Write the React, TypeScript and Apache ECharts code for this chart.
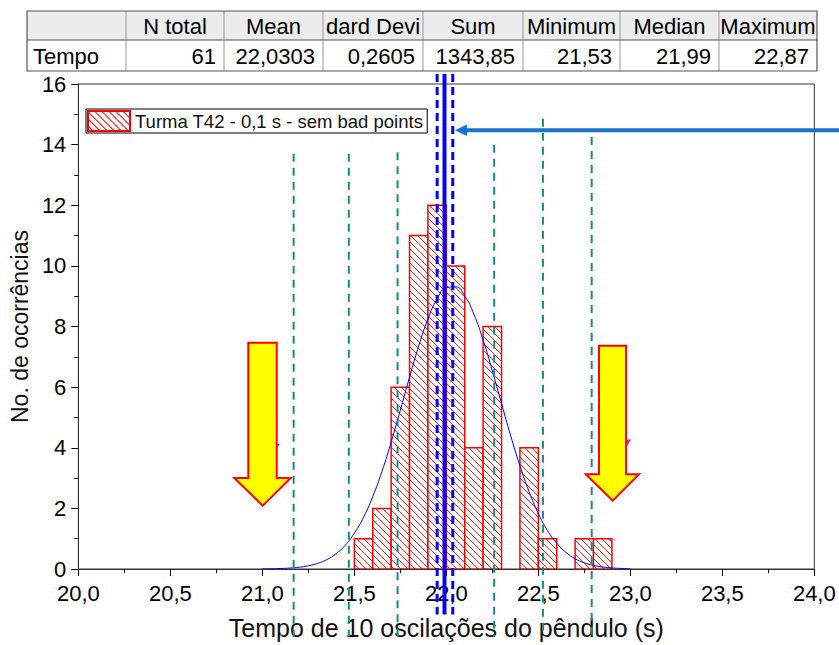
import React, { useEffect, useRef } from 'react';
import * as echarts from 'echarts';

// ---------- data ----------
const seriesName = 'Turma T42 - 0,1 s - sem bad points';
const binStarts = [21.5, 21.6, 21.7, 21.8, 21.9, 22.0, 22.1, 22.2, 22.3, 22.4, 22.5, 22.6, 22.7, 22.8];
const counts = [1, 2, 6, 11, 12, 10, 4, 8, 0, 4, 1, 0, 1, 1];
const binWidth = 0.1;

const fitX = [21.0, 21.05, 21.1, 21.15, 21.2, 21.25, 21.3, 21.35, 21.4, 21.45, 21.5, 21.55, 21.6, 21.65, 21.7, 21.75, 21.8, 21.85, 21.9, 21.95, 22.0,
  22.05, 22.1, 22.15, 22.2, 22.25, 22.3, 22.35, 22.4, 22.45, 22.5, 22.55, 22.6, 22.65, 22.7, 22.75, 22.8, 22.85, 22.9, 22.95, 23.0];
const fitY = [0.004, 0.008, 0.016, 0.031, 0.058, 0.106, 0.184, 0.31, 0.5, 0.78, 1.18, 1.71, 2.39, 3.22, 4.19, 5.24, 6.33, 7.36, 8.25, 8.91, 9.28,
  9.31, 9.01, 8.4, 7.55, 6.54, 5.46, 4.39, 3.41, 2.55, 1.83, 1.27, 0.85, 0.55, 0.34, 0.205, 0.12, 0.066, 0.035, 0.018, 0.009];

const tealX = [21.17, 21.47, 21.735, 22.26, 22.525, 22.79];
const tealTop = [13.7, 13.7, 13.75, 14.0, 14.85, 14.25];
const tealBottom = -2.24;
const medianX = 21.99;
const ciX = [21.95, 22.035];
const blueTop = 16.33;
const blueBottom = -1.5;

const xMin = 20, xMax = 24, xInterval = 0.5;
const yMin = 0, yMax = 16, yInterval = 2;

const tableHeaders = ['', 'N total', 'Mean', 'dard Devi', 'Sum', 'Minimum', 'Median', 'Maximum'];
const tableRow = ['Tempo', '61', '22,0303', '0,2605', '1343,85', '21,53', '21,99', '22,87'];

// ---------- layout ----------
const FONT = 'Liberation Sans, Arial, sans-serif';
const colX = [27, 126, 224, 323, 423, 523, 620, 719, 817];
const rowY = [11, 40, 71];
const HATCH_STEP = 7;

function buildTable(): any[] {
  const els: any[] = [];
  const Z = 100;
  els.push({ type: 'rect', shape: { x: colX[0], y: rowY[0], width: colX[8] - colX[0], height: rowY[1] - rowY[0] }, style: { fill: '#ececec' }, z: Z });
  els.push({ type: 'rect', shape: { x: colX[0], y: rowY[1], width: colX[8] - colX[0], height: rowY[2] - rowY[1] }, style: { fill: '#ffffff' }, z: Z });
  const txt = (x: number, y: number, s: string, align: string, z: number) => ({
    type: 'text', x, y, z,
    style: { text: s, fill: '#000', font: `22px ${FONT}`, textAlign: align, textVerticalAlign: 'middle' },
  });
  const hy = (rowY[0] + rowY[1]) / 2 + 1;
  const dy = (rowY[1] + rowY[2]) / 2 + 1;
  tableHeaders.forEach((h, i) => {
    if (!h) return;
    els.push(txt((colX[i] + colX[i + 1]) / 2, hy, h, 'center', Z + 3));
  });
  tableRow.forEach((v, i) => {
    if (i === 0) els.push(txt(colX[0] + 6, dy, v, 'left', Z + 3));
    else els.push(txt(colX[i + 1] - 8, dy, v, 'right', Z + 3));
  });
  for (let i = 1; i < colX.length - 1; i++) {
    els.push({ type: 'line', shape: { x1: colX[i], y1: rowY[0], x2: colX[i], y2: rowY[2] }, style: { stroke: '#9a9a9a', lineWidth: 1 }, z: Z + 4 });
  }
  els.push({ type: 'line', shape: { x1: colX[0], y1: rowY[1], x2: colX[8], y2: rowY[1] }, style: { stroke: '#555', lineWidth: 1 }, z: Z + 4 });
  els.push({ type: 'rect', shape: { x: colX[0], y: rowY[0], width: colX[8] - colX[0], height: rowY[2] - rowY[0] }, style: { fill: 'none', stroke: '#555', lineWidth: 1.2 }, z: Z + 5 });
  return els;
}

function buildAnnotations(): any[] {
  const yellow = { fill: '#ffff00', stroke: '#ff0000', lineWidth: 2 };
  return [
    {
      type: 'polygon', z: 120,
      shape: { points: [[248.3, 342.7], [276.7, 342.7], [276.7, 478], [290.7, 478], [262.7, 505.7], [234.3, 478], [248.3, 478]] },
      style: yellow,
    },
    {
      type: 'polygon', z: 120,
      shape: { points: [[599, 345.7], [626, 345.7], [626, 474.3], [639, 474.3], [612.7, 500.7], [585.7, 474.3], [599, 474.3]] },
      style: yellow,
    },
    { type: 'polygon', z: 119, shape: { points: [[274.5, 444], [279.5, 444], [276, 450]] }, style: { fill: '#ff00ff' } },
    { type: 'polygon', z: 119, shape: { points: [[626, 439.5], [631, 439.5], [627, 446]] }, style: { fill: '#ff00ff' } },
    { type: 'line', z: 120, shape: { x1: 465, y1: 130.3, x2: 839, y2: 130.3 }, style: { stroke: '#1874c8', lineWidth: 4 } },
    { type: 'polygon', z: 120, shape: { points: [[455, 130.3], [467, 124.5], [467, 136.1]] }, style: { fill: '#1874c8' } },
  ];
}

function renderHatchedBar(params: any, api: any) {
  const start = api.value(0);
  const end = api.value(1);
  const cnt = api.value(2);
  const p0 = api.coord([start, cnt]);
  const p1 = api.coord([end, 0]);
  const x0 = p0[0], y0 = p0[1];
  const w = p1[0] - p0[0], h = p1[1] - p0[1];
  const children: any[] = [
    { type: 'rect', shape: { x: x0, y: y0, width: w, height: h }, style: { fill: '#ffffff' } },
  ];
  const cMin = Math.ceil((x0 - (y0 + h)) / HATCH_STEP) * HATCH_STEP;
  for (let c = cMin; c <= x0 + w - y0; c += HATCH_STEP) {
    const xs = Math.max(x0, y0 + c);
    const xe = Math.min(x0 + w, y0 + h + c);
    if (xe > xs) {
      children.push({ type: 'line', shape: { x1: xs, y1: xs - c, x2: xe, y2: xe - c }, style: { stroke: '#ff2020', lineWidth: 1 } });
    }
  }
  children.push({ type: 'rect', shape: { x: x0, y: y0, width: w, height: h }, style: { fill: 'none', stroke: '#ff0000', lineWidth: 1.5 } });
  return { type: 'group', children };
}

export default function App() {
  const ref = useRef<HTMLDivElement>(null);
  useEffect(() => {
    if (!ref.current) return;
    const chart = echarts.init(ref.current, null, { renderer: 'svg' });

    const histData = binStarts
      .map((s, i) => [s, +(s + binWidth).toFixed(3), counts[i]])
      .filter((d) => d[2] > 0);

    const vSeries: any[] = [];
    tealX.forEach((x, i) => {
      vSeries.push({
        type: 'line', data: [[x, tealTop[i]], [x, tealBottom]], symbol: 'none', clip: false, silent: true, z: 5,
        lineStyle: { color: '#178a85', width: 2, type: [8, 6] },
      });
    });
    ciX.forEach((x) => {
      vSeries.push({
        type: 'line', data: [[x, blueTop], [x, blueBottom]], symbol: 'none', clip: false, silent: true, z: 6,
        lineStyle: { color: '#0000ff', width: 3, type: [8, 5] },
      });
    });
    vSeries.push({
      type: 'line', data: [[medianX, blueTop], [medianX, blueBottom]], symbol: 'none', clip: false, silent: true, z: 6,
      lineStyle: { color: '#0000ff', width: 4 },
    });

    const option: any = {
      animation: false,
      backgroundColor: '#ffffff',
      textStyle: { fontFamily: FONT },
      grid: { left: 76.5, right: 24.7, top: 84, bottom: 73.3, show: true, borderColor: '#333', borderWidth: 1, backgroundColor: 'transparent' },
      legend: {
        data: [seriesName], left: 86, top: 109, orient: 'horizontal', icon: 'rect',
        borderColor: '#000', borderWidth: 1, padding: [1, 4, 1, 1], borderRadius: 0,
        itemWidth: 42, itemHeight: 20, itemGap: 0,
        textStyle: { fontSize: 18.5, color: '#111', fontFamily: FONT },
        backgroundColor: '#fff',
      },
      xAxis: {
        type: 'value', min: xMin, max: xMax, interval: xInterval,
        name: 'Tempo de 10 oscilações do pêndulo (s)', nameLocation: 'middle', nameGap: 46,
        nameTextStyle: { fontSize: 25, color: '#111', fontFamily: FONT },
        axisLine: { show: true, onZero: false, lineStyle: { color: '#333', width: 1 } },
        axisTick: { show: true, length: 7, lineStyle: { color: '#000' } },
        minorTick: { show: true, splitNumber: 2, length: 4, lineStyle: { color: '#000' } },
        splitLine: { show: false },
        axisLabel: { fontSize: 22, color: '#000', margin: 13, formatter: (v: number) => v.toFixed(1).replace('.', ',') },
      },
      yAxis: {
        type: 'value', min: yMin, max: yMax, interval: yInterval,
        name: 'No. de ocorrências', nameLocation: 'middle', nameGap: 41,
        nameTextStyle: { fontSize: 23, color: '#111', fontFamily: FONT },
        axisLine: { show: true, lineStyle: { color: '#333', width: 1 } },
        axisTick: { show: true, length: 7, lineStyle: { color: '#000' } },
        minorTick: { show: true, splitNumber: 2, length: 4, lineStyle: { color: '#000' } },
        splitLine: { show: false },
        axisLabel: { fontSize: 22, color: '#000', margin: 12 },
      },
      series: [
        {
          // legend entry carrier (hatched swatch)
          name: seriesName, type: 'bar', data: [],
          itemStyle: {
            color: '#ffffff', borderColor: '#ff0000', borderWidth: 1.5,
            decal: { symbol: 'rect', symbolSize: 1, dashArrayX: [1, 0], dashArrayY: [1, 4], rotation: Math.PI / 4, color: '#ff0000' },
          },
        },
        {
          name: 'hist', type: 'custom', data: histData, renderItem: renderHatchedBar, z: 2,
          encode: { x: [0, 1], y: 2 }, clip: true,
        },
        {
          name: 'fit', type: 'line', data: fitX.map((x, i) => [x, fitY[i]]), smooth: true, symbol: 'none', z: 4,
          lineStyle: { color: '#0000ff', width: 1 },
        },
        ...vSeries,
      ],
      graphic: [...buildTable(), ...buildAnnotations()],
    };
    chart.setOption(option);
    return () => chart.dispose();
  }, []);
  return <div ref={ref} style={{ position: 'absolute', left: 0, top: 0, width: 839, height: 645 }} />;
}
